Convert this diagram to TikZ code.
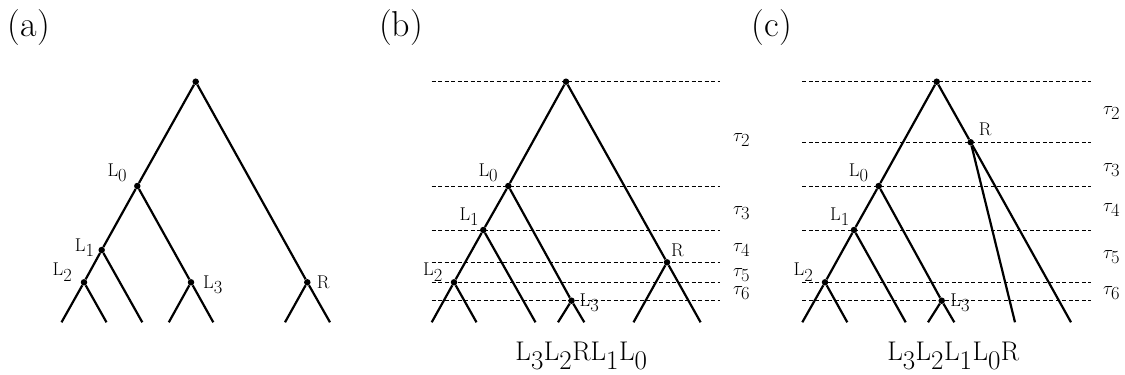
\RequirePackage{fix-cm}
\documentclass[tikz,border=0pt]{standalone}
\usetikzlibrary{positioning}
\newcommand{\Lsub}[1]{L$_{\textstyle #1}$}
\newcommand{\tsub}[1]{$\tau_{\textstyle #1}$}
\tikzset{
  vtx/.style={circle,fill=black,inner sep=0pt,minimum size=6.5pt},
  branche/.style={line width=2.2pt},
  niveau/.style={line width=0.7pt,dash pattern=on 4pt off 2.5pt},
  every label/.style={font=\fontsize{18.5}{20}\selectfont,inner sep=1.5pt},
  titre/.style={font=\fontsize{36}{40}\selectfont},
  mot/.style={font=\fontsize{27}{30}\selectfont},
  tps/.style={anchor=west,font=\fontsize{18.5}{20}\selectfont,inner sep=0pt},
}
\begin{document}
\begin{tikzpicture}[x=1pt,y=-1pt]
  \useasboundingbox (0,0) rectangle (1125,375);
  % Titres
  \node[titre] (ta) at (29,27.5) {(a)};
  \node[titre] (tb) at (401,27.5) {(b)};
  \node[titre] (tc) at (772,27.5) {(c)};

  % Arbre (a)
  \node[vtx] (a0) at (195.7,81.7) {};
  \node[vtx,label={[xshift=-6pt]above left:\Lsub{0}}] (aL0) at (137.3,186) {};
  \node[vtx,label={[xshift=-2pt,yshift=2.5pt]left:\Lsub{1}}] (aL1) at (101.7,250) {};
  \node[vtx,label={[xshift=-7.5pt,yshift=-3pt]above left:\Lsub{2}}] (aL2) at (84,282.3) {};
  \node[vtx,label={[xshift=7pt,yshift=-2.5pt]right:\Lsub{3}}] (aL3) at (191,282.3) {};
  \node[vtx,label={[xshift=4.5pt]right:R}] (aR) at (307.3,282.3) {};
  \coordinate (af1) at (61.5,322.3);
  \coordinate (af2) at (106.5,322.3);
  \coordinate (af3) at (142.3,322.3);
  \coordinate (af4) at (168.8,322.3);
  \coordinate (af5) at (213.3,322.3);
  \coordinate (af6) at (285,322.3);
  \coordinate (af7) at (330,322.3);
  \draw[branche] (a0) -- (aL0) -- (aL1) -- (aL2) -- (af1);
  \draw[branche] (aL2) -- (af2);
  \draw[branche] (aL1) -- (af3);
  \draw[branche] (aL0) -- (aL3) -- (af5);
  \draw[branche] (aL3) -- (af4);
  \draw[branche] (a0) -- (aR) -- (af7);
  \draw[branche] (aR) -- (af6);

  % Arbre (b)
  \foreach \y in {81.7,186,230,262.3,282.3,300.7}
    \draw[niveau] (431.7,\y) -- (720,\y);
  \node[vtx] (b0) at (566,81.7) {};
  \node[vtx,label={[xshift=-6pt]above left:\Lsub{0}}] (bL0) at (508.3,186) {};
  \node[vtx,label=above left:\Lsub{1}] (bL1) at (483.3,230) {};
  \node[vtx,label={[xshift=-7pt,yshift=-3pt]above left:\Lsub{2}}] (bL2) at (454,282.3) {};
  \node[vtx,label={[xshift=3pt,yshift=-2pt]right:\Lsub{3}}] (bL3) at (571.5,300.7) {};
  \node[vtx,label={[yshift=1.5pt]above right:R}] (bR) at (667,262.3) {};
  \coordinate (bf1) at (431.7,322.3);
  \coordinate (bf2) at (476.5,322.3);
  \coordinate (bf3) at (535.5,322.3);
  \coordinate (bf4) at (558,322.3);
  \coordinate (bf5) at (584.3,322.3);
  \coordinate (bf6) at (633.5,322.3);
  \coordinate (bf7) at (700.6,322.3);
  \draw[branche] (b0) -- (bL0) -- (bL1) -- (bL2) -- (bf1);
  \draw[branche] (bL2) -- (bf2);
  \draw[branche] (bL1) -- (bf3);
  \draw[branche] (bL0) -- (bL3) -- (bf5);
  \draw[branche] (bL3) -- (bf4);
  \draw[branche] (b0) -- (bR) -- (bf7);
  \draw[branche] (bR) -- (bf6);
  \node[tps] (bt2) at (733,140) {\tsub{2}};
  \node[tps] (bt3) at (733,213) {\tsub{3}};
  \node[tps] (bt4) at (733,250) {\tsub{4}};
  \node[tps] (bt5) at (733,275) {\tsub{5}};
  \node[tps] (bt6) at (733,293) {\tsub{6}};
  \node[mot] (bw) at (581.5,355.8) {\Lsub{3}\Lsub{2}R\Lsub{1}\Lsub{0}};

  % Arbre (c)
  \foreach \y in {81.7,142.3,186,230,282.3,300.7}
    \draw[niveau] (802.3,\y) -- (1090.7,\y);
  \node[vtx] (c0) at (936.7,81.7) {};
  \node[vtx,label={[xshift=4pt,yshift=2.5pt]above right:R}] (cR) at (970.7,142.3) {};
  \node[vtx,label={[xshift=-6pt]above left:\Lsub{0}}] (cL0) at (878.7,186) {};
  \node[vtx,label=above left:\Lsub{1}] (cL1) at (854,230) {};
  \node[vtx,label={[xshift=-7.5pt,yshift=-3pt]above left:\Lsub{2}}] (cL2) at (825,282.3) {};
  \node[vtx,label={[xshift=3.5pt,yshift=-2pt]right:\Lsub{3}}] (cL3) at (941.7,300.7) {};
  \coordinate (cf1) at (802.3,322.3);
  \coordinate (cf2) at (847.3,322.3);
  \coordinate (cf3) at (905.7,322.3);
  \coordinate (cf4) at (928,322.3);
  \coordinate (cf5) at (954.3,322.3);
  \coordinate (cf6) at (1015,322.3);
  \coordinate (cf7) at (1071,322.3);
  \draw[branche] (c0) -- (cL0) -- (cL1) -- (cL2) -- (cf1);
  \draw[branche] (cL2) -- (cf2);
  \draw[branche] (cL1) -- (cf3);
  \draw[branche] (cL0) -- (cL3) -- (cf5);
  \draw[branche] (cL3) -- (cf4);
  \draw[branche] (c0) -- (cR) -- (cf7);
  \draw[branche] (cR) -- (cf6);
  \node[tps] (ct2) at (1103,113) {\tsub{2}};
  \node[tps] (ct3) at (1103,170) {\tsub{3}};
  \node[tps] (ct4) at (1103,210) {\tsub{4}};
  \node[tps] (ct5) at (1103,257) {\tsub{5}};
  \node[tps] (ct6) at (1103,293) {\tsub{6}};
  \node[mot] (cw) at (953.3,355.8) {\Lsub{3}\Lsub{2}\Lsub{1}\Lsub{0}R};
\end{tikzpicture}
\end{document}
